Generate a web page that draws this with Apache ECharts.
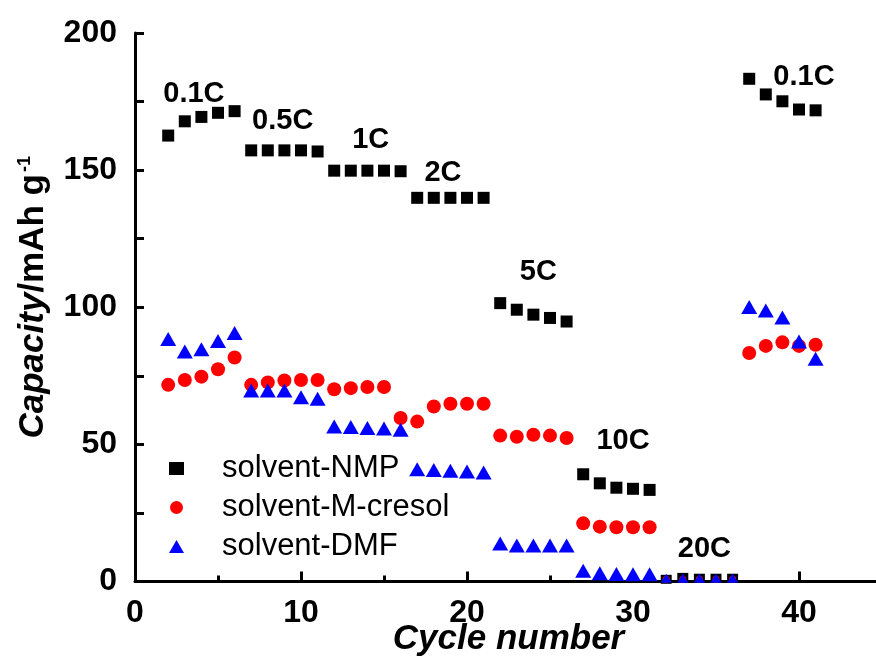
<!DOCTYPE html>
<html>
<head>
<meta charset="utf-8">
<script src="https://cdn.jsdelivr.net/npm/echarts@6/dist/echarts.min.js"></script>
<style>
html,body{margin:0;padding:0;background:#fff;}
#chart{width:876px;height:660px;}
</style>
</head>
<body>
<div id="chart"></div>
<script>
const cycles = [2,3,4,5,6,7,8,9,10,11,12,13,14,15,16,17,18,19,20,21,22,23,24,25,26,27,28,29,30,31,32,33,34,35,36,37,38,39,40,41];
const nmp = [162.6,167.8,169.4,170.9,171.5, 157.2,157.2,157.2,157.2,156.8, 149.8,149.8,149.8,149.8,149.6, 139.9,139.9,139.9,139.9,139.9, 101.5,99.1,97.3,96.1,94.8, 39.1,35.8,34.2,33.8,33.4, 0.8,1.5,1.2,1.2,1.2, 183.3,177.6,175.1,172.1,171.8];
const cresol = [71.7,73.5,74.7,77.4,81.7, 71.7,72.6,73.3,73.5,73.5, 70.1,70.5,70.9,70.9,59.6, 58.3,63.8,64.8,64.8,64.8, 53.2,52.8,53.5,53.2,52.3, 21.2,20.0,19.8,19.8,19.8, 0.8,0.8,0.8,0.8,0.8, 83.3,85.9,87.2,85.9,86.3];
const dmf = [88.4,83.9,84.7,87.7,90.6, 69.6,69.6,69.6,67.2,66.6, 56.5,56.3,56.0,55.8,55.3, 40.9,40.7,40.4,40.1,39.7, 13.9,13.1,13.1,13.1,13.1, 3.9,3.0,2.7,2.6,2.6, 1.2,1.2,1.2,1.2,1.2, 100.1,98.8,96.3,87.5,81.2];
const seriesNames = ['solvent-NMP','solvent-M-cresol','solvent-DMF'];
const rateLabels = ['0.1C','0.5C','1C','2C','5C','10C','20C','0.1C'];
const rateLabelX = [3.55, 8.9, 14.2, 18.55, 24.3, 29.4, 34.3, 40.3];
const rateLabelY = [177.6, 168, 161.1, 149.1, 113, 51.3, 11.9, 184.1];
const xTicks = [0,10,20,30,40];
const yTicks = [0,50,100,150,200];

const FONT = 'Arial, "Liberation Sans", sans-serif';
const pair = (xs, ys) => xs.map((x, i) => [x, ys[i]]);

const chart = echarts.init(document.getElementById('chart'), null, {renderer:'canvas'});
const option = {
  backgroundColor: '#ffffff',
  animation: false,
  grid: {left: 135, top: 33, width: 747, bottom: 78.5, containLabel: false, outerBoundsMode: 'none'},
  legend: {
    data: [
      {name: seriesNames[0], icon: 'rect', itemStyle: {color: '#000', opacity: 1}},
      {name: seriesNames[1], icon: 'circle', itemStyle: {color: '#ff0000', opacity: 1}},
      {name: seriesNames[2], icon: 'triangle', itemStyle: {color: '#0000ff', opacity: 1}}
    ],
    orient: 'vertical',
    left: 164, top: 448,
    itemWidth: 15, itemHeight: 13, itemGap: 8,
    textStyle: {fontFamily: FONT, fontSize: 31, color: '#000', lineHeight: 31, padding: [0,0,0,33]}
  },
  xAxis: {
    type: 'value', min: 0, max: 45, interval: 10,
    name: 'Cycle number', nameLocation: 'middle', nameGap: 40, nameMoveOverlap: false,
    nameTextStyle: {fontFamily: FONT, fontSize: 35, fontWeight: 'bold', fontStyle: 'italic', color: '#000'},
    axisLine: {onZero: false, lineStyle: {color: '#000', width: 3}},
    axisTick: {inside: true, length: 10, lineStyle: {color: '#000', width: 3}},
    minorTick: {show: true, splitNumber: 2, length: 6, lineStyle: {color: '#000', width: 3}},
    splitLine: {show: false},
    axisLabel: {
      margin: 16, fontFamily: FONT, fontSize: 32, fontWeight: 'bold', color: '#000',
      formatter: v => xTicks.includes(v) ? String(v) : ''
    }
  },
  yAxis: {
    type: 'value', min: 0, max: 200, interval: 50,
    name: '{i|Capacity}{n|/mAh g}{s|-1}', nameLocation: 'middle', nameGap: 84, nameRotate: 90, nameMoveOverlap: false,
    nameTextStyle: {
      fontFamily: FONT, color: '#000', padding: [0,0,0,20],
      rich: {
        i: {fontFamily: FONT, fontSize: 35, fontWeight: 'bold', fontStyle: 'italic', color: '#000'},
        n: {fontFamily: FONT, fontSize: 35, fontWeight: 'bold', color: '#000'},
        s: {fontFamily: FONT, fontSize: 18, fontWeight: 'bold', color: '#000', verticalAlign: 'top', padding: [0,0,16,2]}
      }
    },
    axisLine: {show: true, lineStyle: {color: '#000', width: 3}},
    axisTick: {show: true, inside: true, length: 9, lineStyle: {color: '#000', width: 3}},
    minorTick: {show: true, splitNumber: 2, length: 9, lineStyle: {color: '#000', width: 3}},
    splitLine: {show: false},
    axisLabel: {
      margin: 18, fontFamily: FONT, fontSize: 32, fontWeight: 'bold', color: '#000',
      formatter: v => yTicks.includes(v) ? String(v) : ''
    }
  },
  series: [
    {
      name: seriesNames[0], type: 'scatter', symbol: 'rect',
      symbolSize: v => v[1] < 2 ? [11, 9] : 12,
      itemStyle: {color: '#000000', opacity: 1},
      data: pair(cycles, nmp), z: 2
    },
    {
      name: seriesNames[1], type: 'scatter', symbol: 'circle',
      symbolSize: v => v[1] < 2 ? 7 : 14,
      itemStyle: {color: '#ff0000', opacity: 1},
      data: pair(cycles, cresol), z: 3
    },
    {
      name: seriesNames[2], type: 'scatter', symbol: 'triangle',
      symbolSize: v => v[1] < 2 ? [11, 9] : [16, 14],
      itemStyle: {color: '#0000ff', opacity: 1},
      data: pair(cycles, dmf), z: 4
    },
    {
      name: 'rates', type: 'scatter', symbolSize: 0, silent: true, z: 5,
      itemStyle: {opacity: 1},
      data: rateLabels.map((t, i) => [rateLabelX[i], rateLabelY[i], t]),
      label: {
        show: true, position: 'inside', formatter: p => p.value[2], opacity: 1,
        fontFamily: FONT, fontSize: 29, fontWeight: 'bold', color: '#000'
      }
    }
  ]
};
chart.setOption(option);
</script>
</body>
</html>
